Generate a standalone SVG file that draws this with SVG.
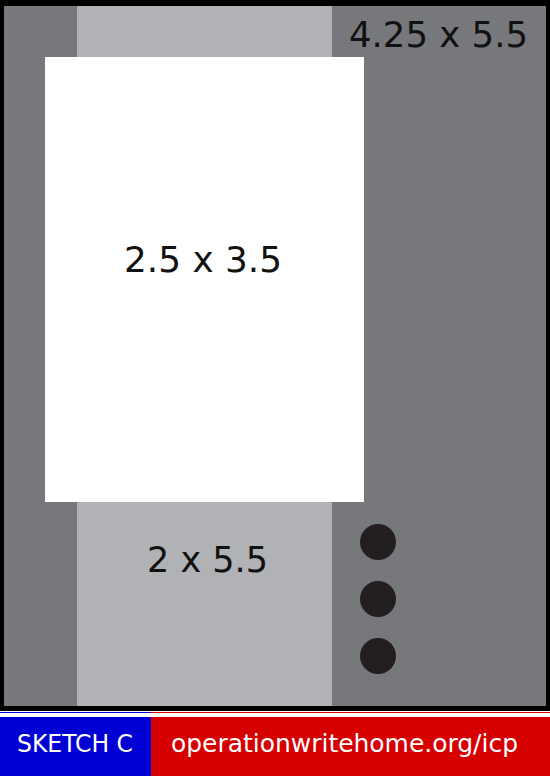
<svg xmlns="http://www.w3.org/2000/svg" width="550" height="776" viewBox="0 0 550 776">
<style>
.lbl{font-family:"DejaVu Sans","Liberation Sans",sans-serif;fill:#111;font-size:36px}
.foot{font-family:"DejaVu Sans","Liberation Sans",sans-serif;fill:#fff;font-size:24px}
.dot{fill:#231f20}
</style>
<rect x="0" y="0" width="550" height="776" fill="#fff"/>
<g id="card-base">
<rect x="0" y="0" width="550" height="711" fill="#000"/>
<rect x="4" y="6" width="542" height="700" fill="#77787b"/>
<text class="lbl" x="349" y="47" textLength="179" lengthAdjust="spacingAndGlyphs">4.25 x 5.5</text>
</g>
<g id="stripe">
<rect x="77" y="6" width="255" height="700" fill="#b1b2b5"/>
<text class="lbl" x="147" y="572" textLength="121" lengthAdjust="spacingAndGlyphs">2 x 5.5</text>
</g>
<g id="photo">
<rect x="45" y="57" width="319" height="445" fill="#fff"/>
<text class="lbl" x="124" y="272" textLength="158" lengthAdjust="spacingAndGlyphs">2.5 x 3.5</text>
</g>
<g id="dots">
<circle class="dot" cx="378" cy="542" r="18"/>
<circle class="dot" cx="378" cy="599" r="18"/>
<circle class="dot" cx="378" cy="656" r="18"/>
</g>
<g id="footer">
<rect x="0" y="712" width="151" height="1" fill="#0000d4"/>
<rect x="151" y="712" width="399" height="1" fill="#d60000"/>
<rect x="0" y="717" width="151" height="59" fill="#0000d4"/>
<rect x="151" y="717" width="399" height="59" fill="#d60000"/>
<text class="foot" x="17" y="752" textLength="116" lengthAdjust="spacingAndGlyphs">SKETCH C</text>
<text class="foot" x="171" y="752" textLength="347" lengthAdjust="spacingAndGlyphs">operationwritehome.org/icp</text>
</g>
<g id="connectors"></g>
</svg>
